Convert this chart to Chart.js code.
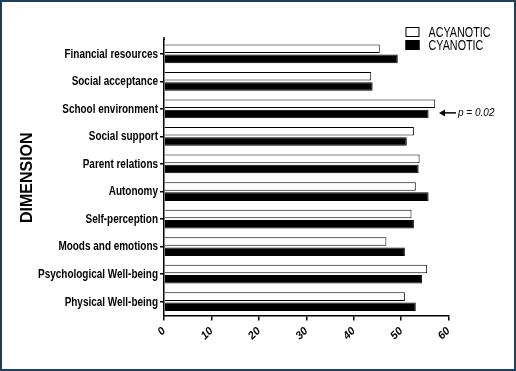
<!DOCTYPE html>
<html>
<head>
<meta charset="utf-8">
<script src="https://cdn.jsdelivr.net/npm/chart.js@4/dist/chart.umd.min.js"></script>
<style>
  html, body { margin: 0; padding: 0; background: #fff; }
  #wrap { width: 516px; height: 371px; box-sizing: border-box; border: 2px solid #1d3f5e; background: #fff; }
</style>
</head>
<body>
<div id="wrap"><canvas id="myChart"></canvas></div>
<script>
var dimensions = ["Financial resources", "Social acceptance", "School environment", "Social support",
  "Parent relations", "Autonomy", "Self-perception", "Moods and emotions",
  "Psychological Well-being", "Physical Well-being"];
var acyanotic = [45.5, 43.7, 57.2, 52.7, 53.9, 53.1, 52.2, 46.9, 55.5, 50.8];
var cyanotic = [49.3, 44.0, 55.8, 51.2, 53.7, 55.8, 52.7, 50.8, 54.4, 53.1];
var xTicks = [0, 10, 20, 30, 40, 50, 60];
var pNote = { category: "School environment", value: 58, text: "p = 0.02" };

var sans = '"Liberation Sans", Arial, sans-serif';

// narrow text: the source uses a condensed face, squeeze Liberation Sans to match
function narrowText(ctx, text, x, y, font, squeeze, align) {
  ctx.save();
  ctx.translate(x, y);
  ctx.scale(squeeze, 1);
  ctx.font = font;
  ctx.fillStyle = '#000';
  ctx.textAlign = align;
  ctx.textBaseline = 'middle';
  ctx.fillText(text, 0, 0);
  ctx.restore();
}

var extras = {
  id: 'extras',
  afterDraw: function (chart) {
    var ctx = chart.ctx;
    var area = chart.chartArea;
    var xs = chart.scales.x, ys = chart.scales.y;

    // category labels
    chart.data.labels.forEach(function (lab, i) {
      narrowText(ctx, lab, area.left - 6, ys.getPixelForValue(i) + 0.5, 'bold 12px ' + sans, 0.83, 'right');
    });

    // little stub of the y axis above the first band
    ctx.save();
    ctx.strokeStyle = '#000';
    ctx.lineWidth = 1.5;
    ctx.beginPath();
    ctx.moveTo(area.left, area.top);
    ctx.lineTo(area.left, area.top - 3);
    ctx.stroke();
    ctx.restore();

    // legend
    var bx = area.right - 43, by = 25;
    chart.data.datasets.forEach(function (ds, i) {
      var y = by + i * 13;
      ctx.save();
      ctx.fillStyle = ds.backgroundColor;
      ctx.fillRect(bx, y, 14, 10);
      ctx.strokeStyle = '#000';
      ctx.lineWidth = 1;
      ctx.strokeRect(bx + 0.5, y + 0.5, 13, 9);
      ctx.restore();
      narrowText(ctx, ds.label, bx + 23, y + 6, '14px ' + sans, 0.77, 'left');
    });

    // p-value arrow
    var ax = xs.getPixelForValue(pNote.value);
    var ay = ys.getPixelForValue(dimensions.indexOf(pNote.category)) + 4;
    ctx.save();
    ctx.strokeStyle = '#000';
    ctx.lineWidth = 1.5;
    ctx.beginPath();
    ctx.moveTo(ax + 2, ay);
    ctx.lineTo(ax + 17, ay);
    ctx.stroke();
    ctx.beginPath();
    ctx.moveTo(ax, ay);
    ctx.lineTo(ax + 6, ay - 3.5);
    ctx.lineTo(ax + 6, ay + 3.5);
    ctx.closePath();
    ctx.fillStyle = '#000';
    ctx.fill();
    ctx.font = 'italic 10px ' + sans;
    ctx.textAlign = 'left';
    ctx.textBaseline = 'middle';
    ctx.fillText(pNote.text, ax + 19, ay);
    ctx.restore();
  }
};

var myChart = new Chart(document.getElementById('myChart'), {
  type: 'bar',
  data: {
    labels: dimensions,
    datasets: [{
      label: 'ACYANOTIC',
      data: acyanotic,
      backgroundColor: '#ffffff',
      borderColor: '#000000',
      borderWidth: 1,
      categoryPercentage: 0.74,
      barPercentage: 0.84
    },
    {
      label: 'CYANOTIC',
      data: cyanotic,
      backgroundColor: '#000000',
      borderColor: '#000000',
      borderWidth: 1,
      categoryPercentage: 0.74,
      barPercentage: 0.84
    }]
  },
  options: {
    indexAxis: 'y',
    responsive: true,
    maintainAspectRatio: false,
    animation: false,
    layout: { padding: { top: 38, right: 65.5, left: 0, bottom: 0 } },
    plugins: {
      legend: { display: false },
      tooltip: { enabled: false }
    },
    scales: {
      x: {
        min: 0,
        max: 60,
        afterBuildTicks: function (scale) {
          scale.ticks = xTicks.map(function (v) { return { value: v }; });
        },
        afterFit: function (scale) { scale.height = 53.5; },
        border: { color: '#000', width: 1.5 },
        grid: { drawOnChartArea: false, drawTicks: true, tickLength: 5, color: '#000', lineWidth: 1.5 },
        ticks: {
          minRotation: 45,
          maxRotation: 45,
          padding: 4,
          color: '#000',
          font: { family: sans, size: 11, weight: 'bold', style: 'italic' }
        }
      },
      y: {
        afterFit: function (scale) { scale.width = 162; },
        border: { color: '#000', width: 1.5 },
        grid: { drawOnChartArea: false, drawTicks: true, tickLength: 4, color: '#000', lineWidth: 1.5, offset: false },
        ticks: { display: false },
        title: {
          display: true,
          text: 'DIMENSION',
          color: '#000',
          padding: { top: 16, bottom: 4 },
          font: { family: sans, size: 16, weight: 'bold' }
        }
      }
    }
  },
  plugins: [extras]
});
</script>
</body>
</html>
